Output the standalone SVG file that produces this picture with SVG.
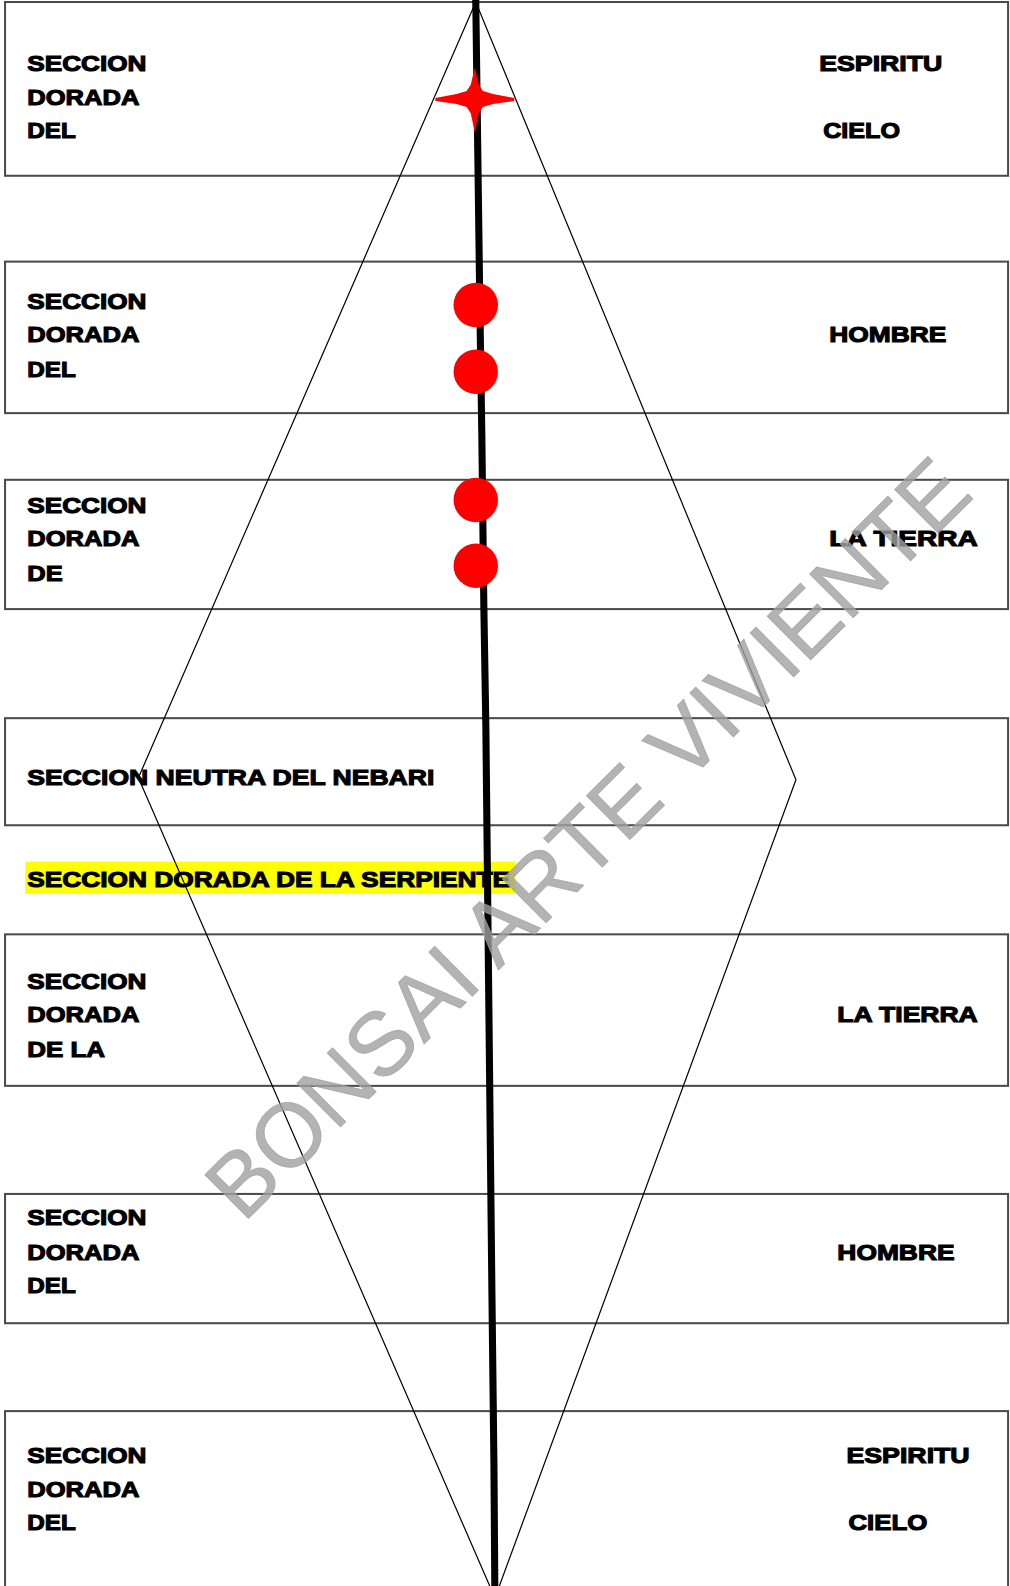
<svg xmlns="http://www.w3.org/2000/svg" width="1010" height="1586" viewBox="0 0 1010 1586">
<style>
.box{fill:#fff;stroke:#4a4a4a;stroke-width:2}
.t{font-family:"Liberation Sans",Arial,sans-serif;font-weight:bold;font-size:22px;fill:#000;stroke:#000;stroke-width:1.1}
.wm{font-family:"Liberation Sans",Arial,sans-serif;font-size:89px;fill:#a0a0a0;fill-opacity:0.8;stroke:#a0a0a0;stroke-opacity:0.8;stroke-width:0.8}
</style>
<rect width="1010" height="1586" fill="#fff"/>
<g transform="scale(1.0101)">
<g id="box1"><rect class="box" x="5" y="2" width="993" height="172"/>
<text class="t" x="27" y="70" textLength="118" lengthAdjust="spacingAndGlyphs">SECCION</text><text class="t" x="27" y="104" textLength="111" lengthAdjust="spacingAndGlyphs">DORADA</text><text class="t" x="27" y="137" textLength="48" lengthAdjust="spacingAndGlyphs">DEL</text>
<text class="t" x="811" y="70" textLength="122" lengthAdjust="spacingAndGlyphs">ESPIRITU</text><text class="t" x="815" y="137" textLength="76" lengthAdjust="spacingAndGlyphs">CIELO</text></g>
<g id="box2"><rect class="box" x="5" y="259" width="993" height="150"/>
<text class="t" x="27" y="306" textLength="118" lengthAdjust="spacingAndGlyphs">SECCION</text><text class="t" x="27" y="339" textLength="111" lengthAdjust="spacingAndGlyphs">DORADA</text><text class="t" x="27" y="373" textLength="48" lengthAdjust="spacingAndGlyphs">DEL</text>
<text class="t" x="821" y="339" textLength="116" lengthAdjust="spacingAndGlyphs">HOMBRE</text></g>
<g id="box3"><rect class="box" x="5" y="475" width="993" height="128"/>
<text class="t" x="27" y="508" textLength="118" lengthAdjust="spacingAndGlyphs">SECCION</text><text class="t" x="27" y="541" textLength="111" lengthAdjust="spacingAndGlyphs">DORADA</text><text class="t" x="27" y="575" textLength="35" lengthAdjust="spacingAndGlyphs">DE</text>
<text class="t" x="821" y="541" textLength="147" lengthAdjust="spacingAndGlyphs">LA TIERRA</text></g>
<g id="box4"><rect class="box" x="5" y="711" width="993" height="106"/>
<text class="t" x="27" y="777" textLength="403" lengthAdjust="spacingAndGlyphs">SECCION NEUTRA DEL NEBARI</text></g>
<g id="serpiente"><rect x="25" y="853" width="485" height="32" fill="#ffff00"/>
<text class="t" x="27" y="878" textLength="478" lengthAdjust="spacingAndGlyphs">SECCION DORADA DE LA SERPIENTE</text></g>
<g id="box5"><rect class="box" x="5" y="925" width="993" height="150"/>
<text class="t" x="27" y="979" textLength="118" lengthAdjust="spacingAndGlyphs">SECCION</text><text class="t" x="27" y="1012" textLength="111" lengthAdjust="spacingAndGlyphs">DORADA</text><text class="t" x="27" y="1046" textLength="77" lengthAdjust="spacingAndGlyphs">DE LA</text>
<text class="t" x="829" y="1012" textLength="139" lengthAdjust="spacingAndGlyphs">LA TIERRA</text></g>
<g id="box6"><rect class="box" x="5" y="1182" width="993" height="128"/>
<text class="t" x="27" y="1213" textLength="118" lengthAdjust="spacingAndGlyphs">SECCION</text><text class="t" x="27" y="1247" textLength="111" lengthAdjust="spacingAndGlyphs">DORADA</text><text class="t" x="27" y="1280" textLength="48" lengthAdjust="spacingAndGlyphs">DEL</text>
<text class="t" x="829" y="1247" textLength="116" lengthAdjust="spacingAndGlyphs">HOMBRE</text></g>
<g id="box7"><rect class="box" x="5" y="1397" width="993" height="200"/>
<text class="t" x="27" y="1448" textLength="118" lengthAdjust="spacingAndGlyphs">SECCION</text><text class="t" x="27" y="1482" textLength="111" lengthAdjust="spacingAndGlyphs">DORADA</text><text class="t" x="27" y="1515" textLength="48" lengthAdjust="spacingAndGlyphs">DEL</text>
<text class="t" x="838" y="1448" textLength="122" lengthAdjust="spacingAndGlyphs">ESPIRITU</text><text class="t" x="840" y="1515" textLength="78" lengthAdjust="spacingAndGlyphs">CIELO</text></g>
<g id="connectors">
<polygon points="471,2 137,770 490,1582 788,772" fill="none" stroke="#000" stroke-width="1.2"/>
<polyline points="471,0 473,150 475,300 477,430 479,600 481,720 484,1000 487,1280 489,1450 490,1590" fill="none" stroke="#000" stroke-width="7"/>
</g>
<g id="markers" fill="#ff0000">
<polygon points="470,67 474,84 478,90 488,93 509,97 509,100 488,103 478,106 474,112 470,131 466,112 462,106 452,103 431,100 431,97 452,93 462,90 466,84"/>
<circle cx="471" cy="302" r="22"/><circle cx="471" cy="368" r="22"/>
<circle cx="471" cy="495" r="22"/><circle cx="471" cy="560" r="22"/>
</g>
<g id="watermark" transform="translate(580,828) rotate(-44.8)">
<text class="wm" x="0" y="33" text-anchor="middle">BONSAI ARTE VIVIENTE</text></g>
</g>
</svg>
